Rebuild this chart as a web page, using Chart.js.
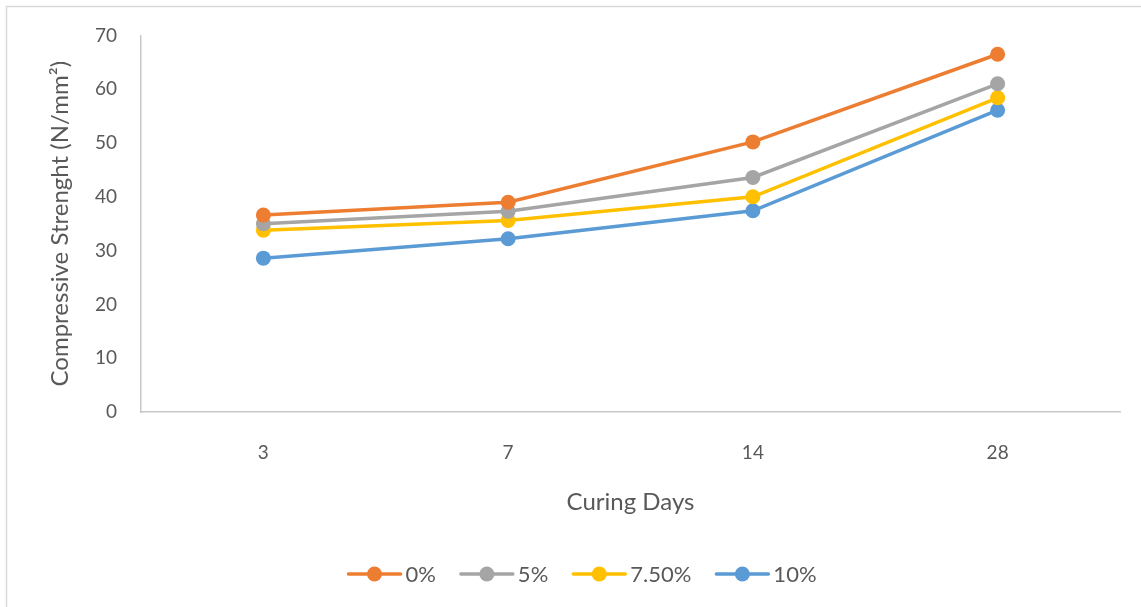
<!DOCTYPE html>
<html>
<head>
<meta charset="utf-8">
<title>Compressive Strength vs Curing Days</title>
<script src="https://cdn.jsdelivr.net/npm/chart.js@4.4.1/dist/chart.umd.min.js"></script>
<style>
  html, body { margin: 0; padding: 0; background: #ffffff; }
  #wrap { position: relative; width: 1141px; height: 607px; }
  canvas { display: block; }
</style>
</head>
<body>
<div id="wrap"><canvas id="chart" width="1141" height="607"></canvas></div>
<script>
// Curing ages (days) on the category axis
const curingDays = ['3', '7', '14', '28'];

// Compressive strength (N/mm²) for each replacement level
const strength0 = [36.6, 39.0, 50.2, 66.5];
const strength5 = [35.0, 37.3, 43.6, 61.0];
const strength75 = [33.8, 35.6, 40.0, 58.4];
const strength10 = [28.6, 32.2, 37.4, 56.1];

const seriesLabels = ['0%', '5%', '7.50%', '10%'];
const yTicks = [0, 10, 20, 30, 40, 50, 60, 70];

const colors = ['#ED7D31', '#A5A5A5', '#FFC000', '#5B9BD5'];
const textColor = '#595959';
const fontFamily = 'Lato, "Open Sans", "Liberation Sans", sans-serif';

const seriesValues = [strength0, strength5, strength75, strength10];

const datasets = seriesValues.map((vals, i) => ({
  label: seriesLabels[i],
  data: vals,
  borderColor: colors[i],
  backgroundColor: colors[i],
  pointBackgroundColor: colors[i],
  pointBorderColor: colors[i],
  borderWidth: 3.5,
  pointRadius: 7.5,
  pointHoverRadius: 7.5,
  pointBorderWidth: 0,
  tension: 0,
  fill: false
}));

// Thin frame along the top and left edges of the chart
const framePlugin = {
  id: 'frame',
  beforeDraw(chart) {
    const ctx = chart.ctx;
    ctx.save();
    ctx.fillStyle = '#ffffff';
    ctx.fillRect(0, 0, chart.width, chart.height);
    ctx.strokeStyle = '#d9d9d9';
    ctx.lineWidth = 1.5;
    ctx.beginPath();
    ctx.moveTo(6.5, chart.height);
    ctx.lineTo(6.5, 6.5);
    ctx.lineTo(chart.width, 6.5);
    ctx.stroke();
    ctx.restore();
  }
};

// Legend drawn as line-with-marker swatches centred under the plot
const lineLegendPlugin = {
  id: 'lineLegend',
  afterDraw(chart) {
    const ctx = chart.ctx;
    const y = 574;
    const swatch = 54, gap = 4, between = 24;
    ctx.save();
    ctx.font = '22px ' + fontFamily;
    ctx.textBaseline = 'middle';
    const items = chart.data.datasets.map(ds => ({
      ds, w: swatch + gap + ctx.measureText(ds.label).width
    }));
    const total = items.reduce((s, it) => s + it.w, 0) + between * (items.length - 1);
    let x = 582 - total / 2;
    items.forEach(({ ds, w }) => {
      ctx.strokeStyle = ds.borderColor;
      ctx.lineWidth = 3.5;
      ctx.lineCap = 'round';
      ctx.beginPath();
      ctx.moveTo(x + 1, y);
      ctx.lineTo(x + swatch - 1, y);
      ctx.stroke();
      ctx.fillStyle = ds.borderColor;
      ctx.beginPath();
      ctx.arc(x + swatch / 2, y, 7.5, 0, Math.PI * 2);
      ctx.fill();
      ctx.fillStyle = textColor;
      ctx.textAlign = 'left';
      ctx.fillText(ds.label, x + swatch + gap, y + 1);
      x += w + between;
    });
    ctx.restore();
  }
};

new Chart(document.getElementById('chart'), {
  type: 'line',
  data: { labels: curingDays, datasets },
  options: {
    responsive: false,
    animation: false,
    layout: { padding: { top: 35, right: 21, left: 0, bottom: 0 } },
    plugins: {
      legend: { display: false },
      tooltip: { enabled: false },
      title: { display: false }
    },
    scales: {
      x: {
        offset: true,
        grid: { display: false, drawTicks: false },
        border: { display: true, color: '#c8c8c8', width: 1.5 },
        ticks: {
          color: textColor,
          font: { family: fontFamily, size: 19 },
          padding: 29,
          maxRotation: 0
        },
        title: {
          display: true,
          text: 'Curing Days',
          color: textColor,
          font: { family: fontFamily, size: 24 },
          padding: { top: 0, bottom: 90 }
        },
        afterFit(scale) { scale.height = 195; }
      },
      y: {
        min: 0,
        max: 70,
        afterBuildTicks(scale) { scale.ticks = yTicks.map(v => ({ value: v })); },
        grid: { display: false, drawTicks: false },
        border: { display: true, color: '#c8c8c8', width: 1.5 },
        ticks: {
          color: textColor,
          font: { family: fontFamily, size: 19 },
          padding: 24
        },
        title: {
          display: true,
          text: 'Compressive Strenght (N/mm²)',
          color: textColor,
          font: { family: fontFamily, size: 24 },
          padding: { top: 46, bottom: 0 }
        },
        afterFit(scale) { scale.width = 141; }
      }
    }
  },
  plugins: [framePlugin, lineLegendPlugin]
});
</script>
</body>
</html>
